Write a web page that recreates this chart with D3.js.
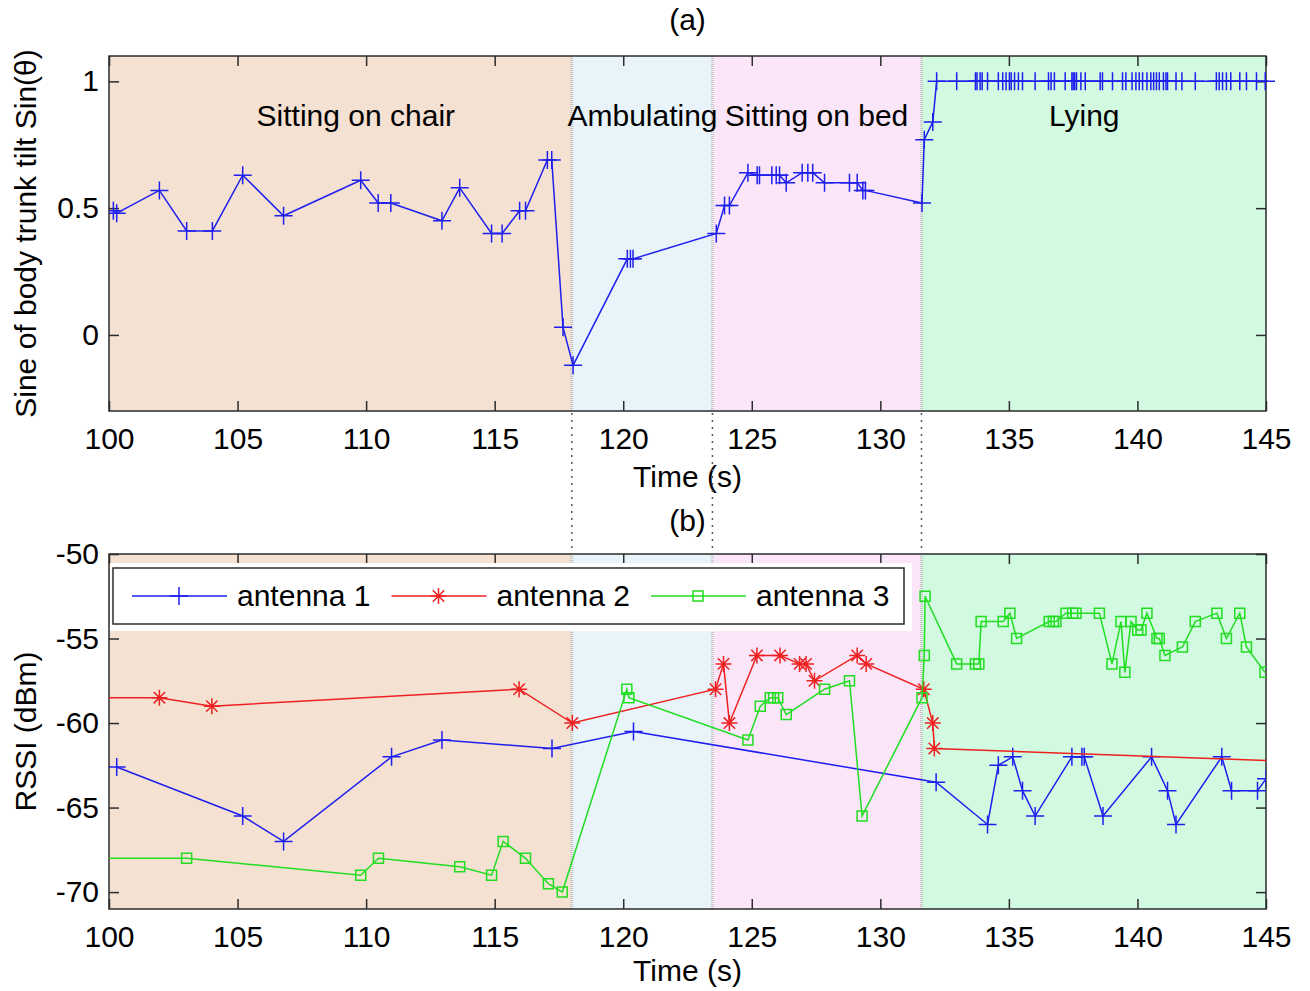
<!DOCTYPE html>
<html>
<head>
<meta charset="utf-8">
<script src="https://cdn.jsdelivr.net/npm/d3@7"></script>
<style>
  body { margin: 0; background: #fff; }
  svg text { font-family: "Liberation Sans", Arial, sans-serif; }
</style>
</head>
<body>
<div id="chart"></div>
<script>
// ---- data ----
const phaseNames = ["Sitting on chair", "Ambulating", "Sitting on bed", "Lying"];
const phaseEdges = [100, 118.0, 123.47, 131.6, 145];

const xTicks = [100, 105, 110, 115, 120, 125, 130, 135, 140, 145];
const yTicksA = [0, 0.5, 1];
const yTicksB = [-70, -65, -60, -55, -50];

// (a) sine of trunk tilt
const tiltTime = [100.17, 100.3, 101.96, 103.02, 104.02, 105.2, 106.79, 109.79, 110.47, 110.96,
  112.95, 113.64, 114.88, 115.29, 115.97, 116.2, 117.05, 117.22, 117.66, 118.05,
  120.16, 120.28, 120.38, 123.62, 123.94, 124.13, 124.85, 125.21, 125.3, 125.78,
  125.95, 126.08, 126.34, 126.96, 127.18, 127.37, 127.83, 128.8, 129.1, 129.32,
  129.42, 131.62, 131.71, 132.04,
  132.19, 132.97, 133.70, 133.76, 133.88, 133.96, 134.17, 134.59, 134.76, 134.89,
  135.02, 135.09, 135.22, 135.37, 135.53, 136.02, 136.54, 136.64, 136.77, 137.19,
  137.45, 137.50, 137.56, 137.63, 137.80, 137.97, 138.55, 138.64, 139.03, 139.42,
  139.55, 139.79, 139.94, 140.07, 140.20, 140.37, 140.52, 140.63, 140.74, 140.85,
  141.01, 141.11, 141.17, 141.50, 141.73, 142.25, 143.07, 143.18, 143.31, 143.46,
  143.63, 143.98, 144.24, 144.63, 144.97, 145.35];
const tiltSin = [0.49, 0.48, 0.57, 0.41, 0.41, 0.63, 0.47, 0.61, 0.52, 0.52,
  0.45, 0.58, 0.40, 0.40, 0.49, 0.49, 0.69, 0.69, 0.03, -0.12,
  0.30, 0.30, 0.30, 0.40, 0.51, 0.51, 0.64, 0.63, 0.63, 0.63,
  0.63, 0.63, 0.60, 0.64, 0.64, 0.64, 0.60, 0.60, 0.60, 0.57,
  0.57, 0.52, 0.77, 0.84,
  1, 1, 1, 1, 1, 1, 1, 1, 1, 1,
  1, 1, 1, 1, 1, 1, 1, 1, 1, 1,
  1, 1, 1, 1, 1, 1, 1, 1, 1, 1,
  1, 1, 1, 1, 1, 1, 1, 1, 1, 1,
  1, 1, 1, 1, 1, 1, 1, 1, 1, 1,
  1, 1, 1, 1, 1, 1];

// (b) RSSI per antenna
const ant1Time = [100.3, 105.2, 106.79, 110.99, 112.95, 117.23, 120.4, 132.17, 134.17, 134.59,
  135.15, 135.53, 136.02, 137.45, 137.84, 137.93, 138.66, 140.55, 141.17, 141.5,
  143.28, 143.66, 144.67, 145.0];
const ant1Rssi = [-62.6, -65.5, -67.0, -62.0, -61.0, -61.5, -60.5, -63.5, -66.0, -62.5,
  -62.0, -64.0, -65.5, -62.0, -62.0, -62.0, -65.5, -62.0, -64.0, -66.0,
  -62.0, -64.0, -64.0, -63.3];

const ant2Time = [99.5, 101.96, 104.0, 115.95, 118.02, 123.59, 123.9, 124.13, 125.2, 126.1,
  126.86, 127.11, 127.44, 129.1, 129.45, 131.69, 132.04, 132.1, 145.5];
const ant2Rssi = [-58.5, -58.5, -59.0, -58.0, -60.0, -58.0, -56.5, -60.0, -56.0, -56.0,
  -56.5, -56.5, -57.5, -56.0, -56.5, -58.0, -60.0, -61.5, -62.25];

const ant3Time = [99.5, 103.02, 109.79, 110.48, 113.64, 114.88, 115.33, 116.2, 117.09, 117.63,
  120.14, 120.22, 124.85, 125.33, 125.72, 125.85, 126.01, 126.34, 127.83, 128.8,
  129.29, 131.62, 131.71, 131.74, 132.97, 133.70, 133.83, 133.92, 134.78, 135.04,
  135.3, 136.57, 136.73, 136.83, 137.22, 137.48, 137.61, 138.52, 139.01, 139.36,
  139.51, 139.75, 140.01, 140.14, 140.37, 140.76, 140.85, 141.07, 141.75, 142.25,
  143.09, 143.46, 143.98, 144.24, 144.96];
const ant3Rssi = [-68.0, -68.0, -69.0, -68.0, -68.5, -69.0, -67.0, -68.0, -69.5, -70.0,
  -58.0, -58.5, -61.0, -59.0, -58.5, -58.5, -58.5, -59.5, -58.0, -57.5,
  -65.5, -58.5, -56.0, -52.5, -56.5, -56.5, -56.5, -54.0, -54.0, -53.5,
  -55.0, -54.0, -54.0, -54.0, -53.5, -53.5, -53.5, -53.5, -56.5, -54.0,
  -57.0, -54.0, -54.5, -54.5, -53.5, -55.0, -55.0, -56.0, -55.5, -54.0,
  -53.5, -55.0, -53.5, -55.5, -57.0];

// ---- styles ----
const phaseColors = ["#f4e1d2", "#e8f4fa", "#fae6f8", "#d2fae1"];
const fontSize = 30;
const axisColor = "#2b2b2b";
const markers = {
  plus: "M-9,0H9M0,-9V9",
  star: "M-8,0H8M0,-8V8M-5.7,-5.7L5.7,5.7M-5.7,5.7L5.7,-5.7",
  square: "M-5,-5H5V5H-5Z"
};

const svg = d3.select("#chart")
  .append("svg")
    .attr("width", 1310)
    .attr("height", 991);

const x = d3.scaleLinear().domain([100, 145]).range([109, 1266]);
const yA = d3.scaleLinear().domain([-0.3, 1.1]).range([411, 56]);
const yB = d3.scaleLinear().domain([-71, -50]).range([909, 554]);

const defs = svg.append("defs");
defs.append("clipPath").attr("id", "clipA").append("rect")
  .attr("x", 109).attr("y", 40).attr("width", 1268 - 109).attr("height", 380);
defs.append("clipPath").attr("id", "clipB").append("rect")
  .attr("x", 109).attr("y", 554).attr("width", 1266 - 109).attr("height", 909 - 554);

// plain labels: "1", "0.5", "-50" (hyphen, no trailing zeros)
const plain = d => String(d);

function styleAxis(a) {
  a.attr("font-size", fontSize).attr("font-family", "Liberation Sans, Arial, sans-serif");
  a.select(".domain").remove();
  a.selectAll("line").attr("stroke", axisColor).attr("stroke-width", 1.5);
  a.selectAll("text").attr("fill", "#000");
}

function drawPanel(y, yTicks, title, titleY, ylabel, xlabelY) {
  const [y1, y0] = y.range();
  const g = svg.append("g");

  // phase backgrounds
  g.selectAll(".phase")
    .data(phaseNames)
    .join("rect")
      .attr("class", "phase")
      .attr("x", (d, i) => x(phaseEdges[i]))
      .attr("width", (d, i) => x(phaseEdges[i + 1]) - x(phaseEdges[i]))
      .attr("y", y0)
      .attr("height", y1 - y0)
      .attr("fill", (d, i) => phaseColors[i]);

  // light dotted phase boundaries inside the axes
  g.selectAll(".edge")
    .data(phaseEdges.slice(1, -1))
    .join("line")
      .attr("x1", d => x(d)).attr("x2", d => x(d))
      .attr("y1", y0).attr("y2", y1)
      .attr("stroke", "#c4c4c4")
      .attr("stroke-width", 3)
      .attr("stroke-dasharray", "1,1");

  // axes with inward ticks on all four sides
  g.append("g")
    .attr("transform", `translate(0,${y1})`)
    .call(d3.axisBottom(x).tickValues(xTicks).tickFormat(plain)
      .tickSizeInner(-10).tickSizeOuter(0).tickPadding(17))
    .call(styleAxis);
  g.append("g")
    .attr("transform", `translate(0,${y0})`)
    .call(d3.axisTop(x).tickValues(xTicks).tickSizeInner(-10).tickSizeOuter(0).tickFormat(""))
    .call(styleAxis);
  g.append("g")
    .attr("transform", "translate(109,0)")
    .call(d3.axisLeft(y).tickValues(yTicks).tickFormat(plain)
      .tickSizeInner(-10).tickSizeOuter(0).tickPadding(10))
    .call(styleAxis);
  g.append("g")
    .attr("transform", "translate(1266,0)")
    .call(d3.axisRight(y).tickValues(yTicks).tickSizeInner(-10).tickSizeOuter(0).tickFormat(""))
    .call(styleAxis);

  g.append("rect")
    .attr("x", 109).attr("y", y0)
    .attr("width", 1266 - 109).attr("height", y1 - y0)
    .attr("fill", "none")
    .attr("stroke", axisColor)
    .attr("stroke-width", 1.5);

  g.append("text")
    .attr("x", (109 + 1266) / 2).attr("y", titleY)
    .attr("text-anchor", "middle").attr("font-size", fontSize)
    .text(title);

  g.append("text")
    .attr("x", (109 + 1266) / 2).attr("y", xlabelY)
    .attr("text-anchor", "middle").attr("font-size", fontSize)
    .text("Time (s)");

  g.append("text")
    .attr("transform", `translate(36,${(y0 + y1) / 2}) rotate(-90)`)
    .attr("text-anchor", "middle").attr("font-size", fontSize)
    .text(ylabel);

  return g;
}

function drawSeries(g, y, times, values, color, marker, clipLine, clipMarks) {
  const pts = times.map((t, i) => [t, values[i]]);
  const line = d3.line().x(d => x(d[0])).y(d => y(d[1]));
  g.append("path")
    .datum(pts)
    .attr("d", line)
    .attr("fill", "none")
    .attr("stroke", color)
    .attr("stroke-width", 1.5)
    .attr("clip-path", clipLine);
  g.append("g")
    .attr("clip-path", clipMarks)
    .selectAll("path")
    .data(pts)
    .join("path")
      .attr("transform", d => `translate(${x(d[0])},${y(d[1])})`)
      .attr("d", markers[marker])
      .attr("fill", "none")
      .attr("stroke", color)
      .attr("stroke-width", 1.5);
}

// ---- panel (a) ----
const gA = drawPanel(yA, yTicksA, "(a)", 30, "Sine of body trunk tilt Sin(\u03b8)", 487);

const phaseLabelT = [109.6, 120.75, 127.52, 137.93];
gA.selectAll(".plabel")
  .data(phaseNames)
  .join("text")
    .attr("x", (d, i) => x(phaseLabelT[i]))
    .attr("y", 126)
    .attr("text-anchor", "middle")
    .attr("font-size", fontSize)
    .text(d => d);

drawSeries(gA, yA, tiltTime, tiltSin, "#1f1fee", "plus", null, "url(#clipA)");

// ---- panel (b) ----
const gB = drawPanel(yB, yTicksB, "(b)", 531, "RSSI (dBm)", 981);

const series = [
  {name: "antenna 1", t: ant1Time, v: ant1Rssi, color: "#1f1fee", marker: "plus"},
  {name: "antenna 2", t: ant2Time, v: ant2Rssi, color: "#ee2020", marker: "star"},
  {name: "antenna 3", t: ant3Time, v: ant3Rssi, color: "#22dd22", marker: "square"}
];

// legend sits over the backgrounds, with a white margin
gB.append("rect")
  .attr("x", 110).attr("y", 563).attr("width", 802).attr("height", 68)
  .attr("fill", "#fff");
gB.append("rect")
  .attr("x", 113).attr("y", 568).attr("width", 791).attr("height", 56)
  .attr("fill", "#fff").attr("stroke", axisColor).attr("stroke-width", 1.5);

series.forEach(s => drawSeries(gB, yB, s.t, s.v, s.color, s.marker, "url(#clipB)", "url(#clipB)"));

const legend = gB.selectAll(".legend")
  .data(series)
  .join("g")
    .attr("transform", (d, i) => `translate(${132 + i * 259.5},596)`);
legend.append("line")
  .attr("x1", 0).attr("x2", 95)
  .attr("stroke", d => d.color).attr("stroke-width", 1.5);
legend.append("path")
  .attr("transform", "translate(47,0)")
  .attr("d", d => markers[d.marker])
  .attr("fill", "none")
  .attr("stroke", d => d.color).attr("stroke-width", 1.5);
legend.append("text")
  .attr("x", 105).attr("y", 10)
  .attr("font-size", fontSize)
  .text(d => d.name);

// dotted connectors between the two panels
svg.selectAll(".connector")
  .data(phaseEdges.slice(1, -1))
  .join("line")
    .attr("x1", d => x(d)).attr("x2", d => x(d))
    .attr("y1", 413).attr("y2", 552)
    .attr("stroke", "#555")
    .attr("stroke-width", 1.5)
    .attr("stroke-dasharray", "2,5");
</script>
</body>
</html>
